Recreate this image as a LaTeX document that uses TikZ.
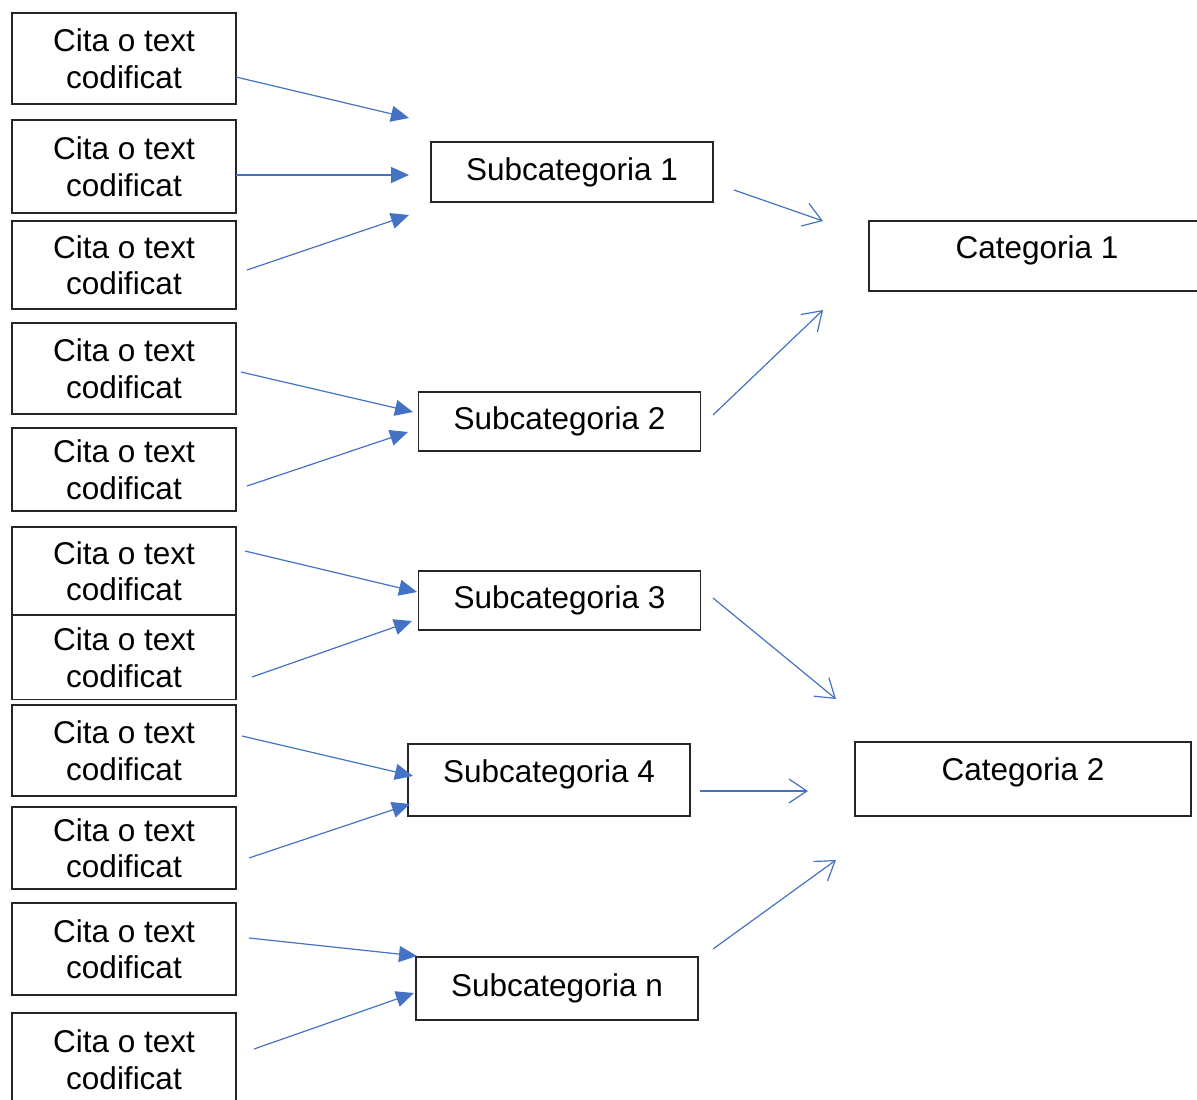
\documentclass[tikz,border=0pt]{standalone}
\usepackage{fontspec}
\setmainfont{Liberation Sans}
\usetikzlibrary{arrows.meta}
\definecolor{arrowblue}{HTML}{4472C4}
\definecolor{boxline}{HTML}{262626}
\begin{document}
\begin{tikzpicture}[x=1pt,y=-1pt,
  box/.style={draw=boxline,line width=1.2pt,inner sep=0pt,align=center,
    font=\fontsize{31.5}{36.5}\selectfont},
  citebox/.style={box,minimum width=224pt},
  subbox/.style={box,minimum width=282pt},
  catbox/.style={box,minimum width=336pt},
  fillarrow/.style={draw=arrowblue,line width=1.2pt,-{Triangle[length=18pt,width=16pt]}},
  openarrow/.style={draw=arrowblue,line width=1.2pt,-{Straight Barb[length=18pt,width=24pt,line width=1.2pt]}}]
\useasboundingbox (0,0) rectangle (1197,1100);
\clip (0,0) rectangle (1197,1100);

% left boxes
\node[citebox,minimum height=91pt] (c1) at (124,58.5) {Cita o text\\codificat};
\node[citebox,minimum height=93pt] (c2) at (124,166.5) {Cita o text\\codificat};
\node[citebox,minimum height=88pt] (c3) at (124,265) {Cita o text\\codificat};
\node[citebox,minimum height=91pt] (c4) at (124,368.5) {Cita o text\\codificat};
\node[citebox,minimum height=83pt] (c5) at (124,469.5) {Cita o text\\codificat};
\node[citebox,minimum height=88pt] (c6) at (124,571) {Cita o text\\codificat};
\node[citebox,minimum height=84pt] (c7) at (124,657.5) {Cita o text\\codificat};
\node[citebox,minimum height=91pt] (c8) at (124,750.5) {Cita o text\\codificat};
\node[citebox,minimum height=82pt] (c9) at (124,848) {Cita o text\\codificat};
\node[citebox,minimum height=92pt] (c10) at (124,949) {Cita o text\\codificat};
\node[citebox,minimum height=93pt] (c11) at (124,1059.5) {Cita o text\\codificat};

% subcategories
\node[subbox,minimum height=60pt] (s1) at (572,172) {Subcategoria 1};
\node[subbox,minimum height=59pt] (s2) at (559.5,421.5) {Subcategoria 2};
\node[subbox,minimum height=59pt] (s3) at (559.5,600.5) {Subcategoria 3};
\node[subbox,minimum height=72pt] (s4) at (549,780) {\raisebox{6pt}[\height][\depth]{Subcategoria 4}};
\node[subbox,minimum height=63pt] (sn) at (557,988.5) {Subcategoria n};

% categories
\node[catbox,minimum height=70pt] (k1) at (1037,256) {\raisebox{6pt}[\height][\depth]{Categoria 1}};
\node[catbox,minimum height=74pt] (k2) at (1023,779) {\raisebox{7pt}[\height][\depth]{Categoria 2}};

% arrow end points
\coordinate (a1s) at (236,77);   \coordinate (a1e) at (409,118);
\coordinate (a2s) at (236,175);  \coordinate (a2e) at (409,175);
\coordinate (a3s) at (247,270);  \coordinate (a3e) at (409,215);
\coordinate (a4s) at (241,372);  \coordinate (a4e) at (413,412);
\coordinate (a5s) at (247,486);  \coordinate (a5e) at (408,432);
\coordinate (a6s) at (245,551);  \coordinate (a6e) at (417,592);
\coordinate (a7s) at (252,677);  \coordinate (a7e) at (412,621);
\coordinate (a8s) at (242,736);  \coordinate (a8e) at (413,776);
\coordinate (a9s) at (249,858);  \coordinate (a9e) at (410,804);
\coordinate (a10s) at (249,938); \coordinate (a10e) at (417,956);
\coordinate (a11s) at (254,1049);\coordinate (a11e) at (414,993);

\coordinate (b1s) at (734,190);  \coordinate (b1e) at (823,221);
\coordinate (b2s) at (713,415);  \coordinate (b2e) at (823,310);
\coordinate (b3s) at (713,598);  \coordinate (b3e) at (836,699);
\coordinate (b4s) at (700,791);  \coordinate (b4e) at (808,791);
\coordinate (b5s) at (713,949);  \coordinate (b5e) at (836,860);

\foreach \i in {1,...,11} {\draw[fillarrow] (a\i s) -- (a\i e);}
\foreach \i in {1,...,5} {\draw[openarrow] (b\i s) -- (b\i e);}
\end{tikzpicture}
\end{document}
